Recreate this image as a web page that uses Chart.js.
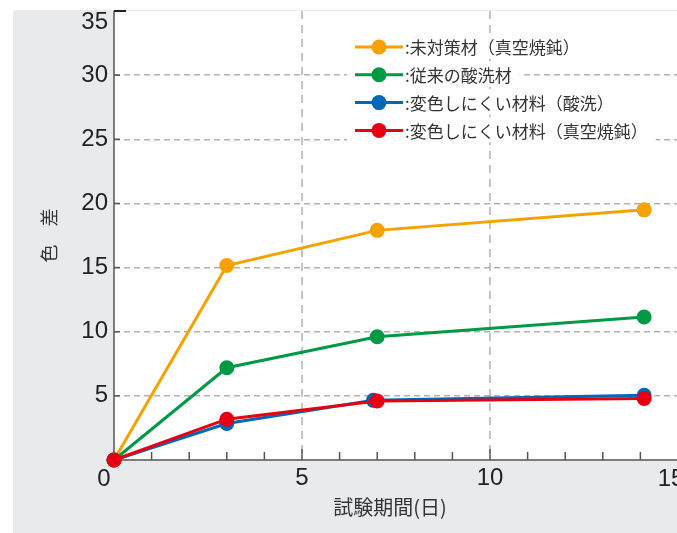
<!DOCTYPE html>
<html>
<head>
<meta charset="utf-8">
<script src="https://cdn.jsdelivr.net/npm/chart.js@4"></script>
<style>
  html, body { margin: 0; padding: 0; background: #fff; overflow: hidden; }
  #wrap { width: 677px; height: 533px; overflow: hidden; }
</style>
</head>
<body>
<div id="wrap"><canvas id="plot" width="720" height="533"></canvas></div>
<script>
// 試験日数と各材料の色差
const days = [0, 3, 7, 14.1];
const daysBlue = [0, 3, 6.9, 14.1];
const untreated = [0, 15.16, 17.9, 19.5];
const pickled = [0, 7.19, 9.61, 11.15];
const resistPickled = [0, 2.84, 4.65, 5.05];
const resistAnnealed = [0, 3.18, 4.6, 4.8];

const seriesNames = [
  ':未対策材（真空焼鈍）',
  ':従来の酸洗材',
  ':変色しにくい材料（酸洗）',
  ':変色しにくい材料（真空焼鈍）'
];
const seriesColors = ['#f5a200', '#009a44', '#0068b7', '#e60012'];
const yTicks = [5, 10, 15, 20, 25, 30, 35];
const xLabels = [5, 10];

const numFont = '"Liberation Sans", Arial, sans-serif';
const jpFont = '"Noto Sans CJK JP", "Noto Sans", sans-serif';

let toPoints = (xs, ys) => xs.map((x, i) => ({ x: x, y: ys[i] }));

let makeSet = (idx, xs, ys, order) => ({
  label: seriesNames[idx],
  data: toPoints(xs, ys),
  borderColor: seriesColors[idx],
  backgroundColor: seriesColors[idx],
  pointBackgroundColor: seriesColors[idx],
  pointBorderWidth: 0,
  pointRadius: 7.5,
  borderWidth: 3,
  tension: 0,
  clip: false,
  order: order
});

// 背景・目盛・凡例は自前で描く
let framePlugin = {
  id: 'frame',
  beforeDraw(chart) {
    const { ctx, chartArea: a } = chart;
    ctx.save();
    ctx.fillStyle = '#ffffff';
    ctx.fillRect(0, 0, chart.width, chart.height);
    ctx.fillStyle = '#e9eaec';
    ctx.fillRect(13, 10, chart.width - 13, chart.height - 10);
    ctx.fillStyle = '#ffffff';
    ctx.fillRect(a.left, a.top, a.right - a.left + 40, a.bottom - a.top);
    ctx.restore();
  },
  beforeDatasetsDraw(chart) {
    const { ctx, chartArea: a } = chart;
    const xs = chart.scales.x;
    const ys = chart.scales.y;
    ctx.save();

    // 軸線
    ctx.strokeStyle = '#7d7d7d';
    ctx.lineWidth = 2;
    ctx.beginPath();
    ctx.moveTo(a.left, a.top);
    ctx.lineTo(a.left, a.bottom);
    ctx.lineTo(chart.width, a.bottom);
    ctx.stroke();

    // 内向きの目盛
    ctx.strokeStyle = '#555';
    ctx.lineWidth = 1.5;
    for (let d = 1; d <= 15; d++) {
      const px = xs.getPixelForValue(d);
      const len = d % 5 === 0 ? 11 : 8;
      ctx.beginPath();
      ctx.moveTo(px, a.bottom);
      ctx.lineTo(px, a.bottom - len);
      ctx.stroke();
    }
    for (let v of yTicks) {
      const py = ys.getPixelForValue(v);
      ctx.lineWidth = v === 35 ? 2 : 1.5;
      ctx.strokeStyle = v === 35 ? '#222' : '#555';
      ctx.beginPath();
      ctx.moveTo(a.left, py);
      ctx.lineTo(a.left + (v === 35 ? 12 : 6), py);
      ctx.stroke();
    }
    ctx.restore();
  },
  afterDraw(chart) {
    const { ctx, chartArea: a } = chart;
    const ys = chart.scales.y;
    ctx.save();

    // 原点の 0、右端の 15、上端の 35
    ctx.fillStyle = '#222';
    ctx.font = '24px ' + numFont;
    ctx.textBaseline = 'middle';
    ctx.textAlign = 'center';
    ctx.fillText('0', a.left - 10, a.bottom + 19);
    ctx.fillText('15', 671, a.bottom + 19);
    ctx.textAlign = 'right';
    ctx.fillText('35', a.left - 6, ys.getPixelForValue(35) + 11);

    // 凡例
    const lx = 355, ly = 47, step = 27.8;
    ctx.font = '17px ' + jpFont;
    ctx.textAlign = 'left';
    chart.data.datasets.forEach((ds, i) => {
      const cy = ly + i * step;
      const tw = ctx.measureText(ds.label).width;
      ctx.fillStyle = '#ffffff';
      ctx.fillRect(lx - 8, cy - 12, 405 - lx + tw + 16, 24);
      ctx.strokeStyle = ds.borderColor;
      ctx.lineWidth = 3;
      ctx.beginPath();
      ctx.moveTo(lx, cy);
      ctx.lineTo(lx + 48, cy);
      ctx.stroke();
      ctx.fillStyle = ds.borderColor;
      ctx.beginPath();
      ctx.arc(lx + 24, cy, 7.5, 0, Math.PI * 2);
      ctx.fill();
      ctx.fillStyle = '#333';
      ctx.fillText(ds.label, 405, cy + 1);
    });

    // 横軸タイトル
    ctx.font = '20px ' + jpFont;
    ctx.textAlign = 'center';
    ctx.fillText('試験期間(日)', 390, 507);
    ctx.restore();
  }
};

let plotRef = document.getElementById('plot');
let config = {
  type: 'line',
  data: {
    datasets: [
      makeSet(0, days, untreated, 4),
      makeSet(1, days, pickled, 3),
      makeSet(2, daysBlue, resistPickled, 2),
      makeSet(3, days, resistAnnealed, 1)
    ]
  },
  options: {
    responsive: false,
    animation: false,
    layout: { padding: { top: 11, right: 42, left: 0, bottom: 0 } },
    plugins: {
      legend: { display: false },
      tooltip: { enabled: false }
    },
    scales: {
      x: {
        type: 'linear',
        min: 0,
        max: 15,
        afterFit: (s) => { s.height = 73; s.paddingLeft = 0; s.paddingRight = 0; },
        ticks: {
          stepSize: 1,
          padding: 4,
          color: '#222',
          font: { size: 24, family: numFont },
          maxRotation: 0,
          autoSkip: false,
          callback: (v) => xLabels.includes(v) ? String(v) : ''
        },
        grid: {
          drawTicks: false,
          lineWidth: 2,
          color: (c) => (c.tick && (c.tick.value === 5 || c.tick.value === 10)) ? '#c4c4c4' : 'rgba(0,0,0,0)'
        },
        border: { display: false, dash: [8, 6] }
      },
      y: {
        min: 0,
        max: 35,
        afterFit: (s) => { s.width = 114; s.paddingTop = 0; s.paddingBottom = 0; },
        ticks: {
          stepSize: 5,
          padding: 6,
          color: '#222',
          font: { size: 24, family: numFont },
          callback: (v) => (v === 0 || v === 35) ? '' : String(v)
        },
        grid: {
          drawTicks: false,
          lineWidth: 1.5,
          color: (c) => (c.tick && c.tick.value > 0 && c.tick.value < 35) ? '#b2b2b2' : 'rgba(0,0,0,0)'
        },
        border: { display: false, dash: [6, 4] },
        title: {
          display: true,
          text: '色　差',
          color: '#333',
          font: { size: 18, family: jpFont },
          padding: { top: 38, bottom: 0 }
        }
      }
    }
  },
  plugins: [framePlugin]
};

let chart1 = new Chart(plotRef, config);
</script>
</body>
</html>
